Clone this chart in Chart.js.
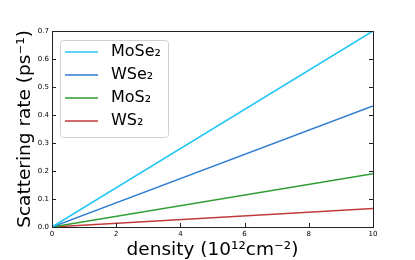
<!DOCTYPE html>
<html>
<head>
<meta charset="utf-8">
<script src="https://cdn.jsdelivr.net/npm/chart.js@4"></script>
<style>
  html, body { margin: 0; padding: 0; background: #fff; }
</style>
</head>
<body>
<canvas id="chart" width="415" height="260"></canvas>
<script>
// Scattering rate vs carrier density
const density = [0, 10];
const moSe2 = [0, 0.70];
const wSe2 = [0, 0.432];
const moS2 = [0, 0.19];
const wS2 = [0, 0.066];

const seriesLabels = ['MoSe\u2082', 'WSe\u2082', 'MoS\u2082', 'WS\u2082'];
const seriesColors = ['#1fc6f4', '#2f7dd3', '#2f9e34', '#c23b3b'];
const xTicks = [0, 2, 4, 6, 8, 10];
const yTicks = [0, 0.1, 0.2, 0.3, 0.4, 0.5, 0.6, 0.7];

const FONT = 'DejaVu Sans';

function points(ys) {
    return density.map((x, i) => ({ x: x, y: ys[i] }));
}

// ticks pointing inwards, frame, legend box and axis titles
const decorPlugin = {
    id: 'decor',
    afterDraw(chart) {
        const ctx = chart.ctx;
        const area = chart.chartArea;
        const xs = chart.scales.x;
        const ys = chart.scales.y;
        ctx.save();
        ctx.strokeStyle = '#222';
        ctx.lineWidth = 1;
        ctx.beginPath();
        xTicks.forEach(v => {
            const px = Math.round(xs.getPixelForValue(v)) + 0.5;
            ctx.moveTo(px, area.bottom);
            ctx.lineTo(px, area.bottom - 4);
        });
        yTicks.forEach(v => {
            const py = Math.round(ys.getPixelForValue(v)) + 0.5;
            ctx.moveTo(area.left, py);
            ctx.lineTo(area.left + 4, py);
            ctx.moveTo(area.right, py);
            ctx.lineTo(area.right - 4, py);
        });
        ctx.stroke();
        ctx.strokeRect(Math.round(area.left) + 0.5, Math.round(area.top) + 0.5,
            Math.round(area.right - area.left), Math.round(area.bottom - area.top));

        // legend
        const lx = 60, ly = 40, lw = 108, lh = 97;
        ctx.fillStyle = 'rgba(255,255,255,0.85)';
        ctx.strokeStyle = '#d0d0d0';
        ctx.beginPath();
        ctx.roundRect(lx + 0.5, ly + 0.5, lw, lh, 3);
        ctx.fill();
        ctx.stroke();
        chart.data.datasets.forEach((ds, i) => {
            const cy = 52 + i * 23;
            ctx.strokeStyle = ds.borderColor;
            ctx.lineWidth = 1.5;
            ctx.beginPath();
            ctx.moveTo(65, cy);
            ctx.lineTo(98, cy);
            ctx.stroke();
            ctx.fillStyle = '#000';
            ctx.font = '16px "' + FONT + '"';
            ctx.textBaseline = 'middle';
            ctx.textAlign = 'left';
            ctx.fillText(ds.label, 111, cy);
        });

        // axis titles
        ctx.fillStyle = '#000';
        ctx.font = '18.5px "' + FONT + '"';
        ctx.textAlign = 'center';
        ctx.textBaseline = 'alphabetic';
        ctx.fillText('density (10\u00b9\u00b2cm\u207b\u00b2)', (area.left + area.right) / 2, 255);
        ctx.translate(30, (area.top + area.bottom) / 2);
        ctx.rotate(-Math.PI / 2);
        ctx.fillText('Scattering rate (ps\u207b\u00b9)', 0, 0);
        ctx.restore();
    }
};

const chart = new Chart(document.getElementById('chart'), {
    type: 'line',
    data: {
        datasets: [moSe2, wSe2, moS2, wS2].map((ys, i) => ({
            label: seriesLabels[i],
            data: points(ys),
            borderColor: seriesColors[i],
            borderWidth: 1.5,
            pointRadius: 0,
            fill: false
        }))
    },
    options: {
        responsive: false,
        animation: false,
        layout: { padding: { left: 0, top: 31, right: 42, bottom: 0 } },
        plugins: {
            legend: { display: false },
            tooltip: { enabled: false }
        },
        scales: {
            x: {
                type: 'linear',
                min: 0,
                max: 10,
                afterFit: s => { s.height = 33; },
                afterBuildTicks: s => { s.ticks = xTicks.map(v => ({ value: v })); },
                grid: { display: false, drawTicks: false },
                border: { display: false },
                ticks: {
                    padding: 3,
                    color: '#000',
                    font: { family: FONT, size: 7 },
                    maxRotation: 0
                }
            },
            y: {
                min: 0,
                max: 0.7,
                afterFit: s => { s.width = 52; },
                afterBuildTicks: s => { s.ticks = yTicks.map(v => ({ value: v })); },
                grid: { display: false, drawTicks: false },
                border: { display: false },
                ticks: {
                    padding: 3,
                    color: '#000',
                    font: { family: FONT, size: 7 },
                    callback: v => v.toFixed(1)
                }
            }
        }
    },
    plugins: [decorPlugin]
});
</script>
</body>
</html>
